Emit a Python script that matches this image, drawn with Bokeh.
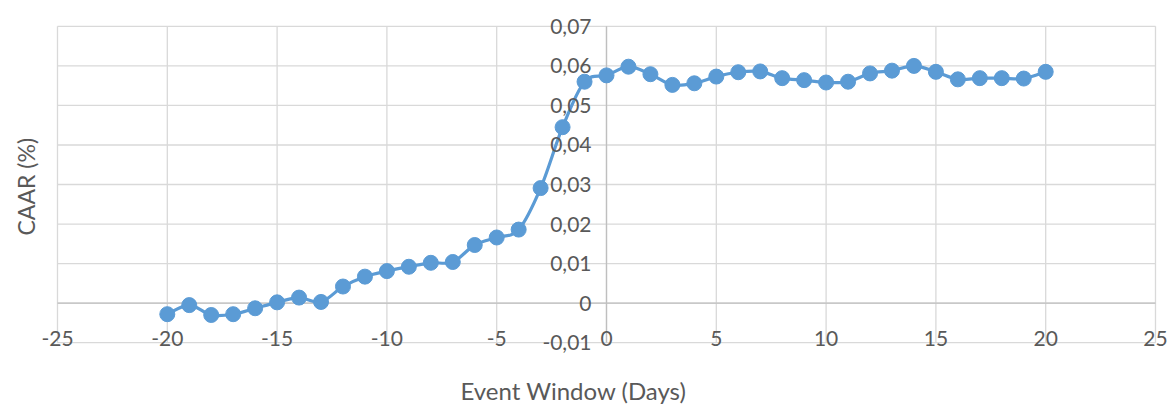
import numpy as np
from bokeh.plotting import figure
from bokeh.models import ColumnDataSource, LabelSet, Title
from bokeh.core.properties import value
from bokeh.embed import file_html
from bokeh.resources import INLINE

days = list(range(-20, 21))
caar = [-0.0028, -0.0005, -0.0030, -0.0028, -0.0013, 0.0002, 0.0014, 0.0003,
        0.0042, 0.0067, 0.0081, 0.0092, 0.0102, 0.0104, 0.0147, 0.0166,
        0.0186, 0.0291, 0.0445, 0.0560, 0.0576, 0.0598, 0.0579, 0.0552,
        0.0556, 0.0573, 0.0584, 0.0586, 0.0569, 0.0564, 0.0558, 0.0560,
        0.0581, 0.0588, 0.0600, 0.0585, 0.0566, 0.0569, 0.0569, 0.0568,
        0.0585]

x_ticks = [-25, -20, -15, -10, -5, 0, 5, 10, 15, 20, 25]
x_tick_labels = ["-25", "-20", "-15", "-10", "-5", "0", "5", "10", "15", "20", "25"]
y_ticks = [-0.01, 0.0, 0.01, 0.02, 0.03, 0.04, 0.05, 0.06, 0.07]
y_tick_labels = ["-0,01", "0", "0,01", "0,02", "0,03", "0,04", "0,05", "0,06", "0,07"]
x_title = "Event Window (Days)"
y_title = "CAAR (%)"

FONT = "Lato"
LABEL_COLOR = "#595959"
BLUE = "#5B9BD5"
GRID = "#D9D9D9"
AXIS = "#BFBFBF"

# layout: frame is larger than the gridded area so edge labels are not clipped
W, H = 1170, 405
LEFT, BOTTOM = 40, 30
xmin, xmax = x_ticks[0], x_ticks[-1]
ymin, ymax = y_ticks[0], y_ticks[-1]
px_x = 1098.0 / (xmax - xmin)
px_y = 318.0 / (ymax - ymin)
x_start = xmin - (57 - LEFT) / px_x
x_end = xmax + (W - 1155) / px_x
y_end = ymax + 26 / px_y
y_start = ymin - ((H - BOTTOM) - 344) / px_y

p = figure(width=W, height=H, x_range=(x_start, x_end), y_range=(y_start, y_end),
           output_backend="svg", toolbar_location=None,
           min_border_left=LEFT, min_border_right=0, min_border_top=0,
           min_border_bottom=BOTTOM)
p.outline_line_color = None
p.background_fill_color = "white"
p.border_fill_color = "white"
p.xgrid.visible = False
p.ygrid.visible = False
p.xaxis.visible = False
p.yaxis.visible = False

p.add_layout(Title(text=x_title, align="left", offset=420, standoff=1,
                   vertical_align="bottom",
                   text_font=FONT, text_font_style="normal", text_font_size="24px",
                   text_color=LABEL_COLOR), "below")
p.add_layout(Title(text=y_title, align="left", offset=138, standoff=2,
                   text_font=FONT, text_font_style="normal", text_font_size="23px",
                   text_color=LABEL_COLOR), "left")

# grid lines
p.segment(x0=x_ticks, x1=x_ticks, y0=[ymin] * len(x_ticks), y1=[ymax] * len(x_ticks),
          line_color=GRID, line_width=1.3)
p.segment(x0=[xmin] * len(y_ticks), x1=[xmax] * len(y_ticks), y0=y_ticks, y1=y_ticks,
          line_color=GRID, line_width=1.3)
# axis lines crossing at 0
p.segment(x0=[0], x1=[0], y0=[ymin], y1=[ymax], line_color=AXIS, line_width=1.3)
p.segment(x0=[xmin], x1=[xmax], y0=[0], y1=[0], line_color=AXIS, line_width=1.3)

# smoothed line (Catmull-Rom -> cubic Bezier control points from the data)
xs = np.array(days, dtype=float)
ys = np.array(caar, dtype=float)
xp = np.concatenate([[xs[0]], xs, [xs[-1]]])
yp = np.concatenate([[ys[0]], ys, [ys[-1]]])
n = len(xs)
x0 = xs[:-1]; y0 = ys[:-1]; x1 = xs[1:]; y1 = ys[1:]
cx0 = xs[:-1] + (xp[2:n + 1] - xp[0:n - 1]) / 6.0
cy0 = ys[:-1] + (yp[2:n + 1] - yp[0:n - 1]) / 6.0
cx1 = xs[1:] - (xp[3:n + 2] - xp[1:n]) / 6.0
cy1 = ys[1:] - (yp[3:n + 2] - yp[1:n]) / 6.0
p.bezier(x0=x0, y0=y0, x1=x1, y1=y1, cx0=cx0, cy0=cy0, cx1=cx1, cy1=cy1,
         line_color=BLUE, line_width=3.2)

p.scatter(days, caar, size=15, fill_color=BLUE, line_color=BLUE)

# tick labels
xsrc = ColumnDataSource(dict(x=x_ticks, y=[ymin] * len(x_ticks), t=x_tick_labels))
p.add_layout(LabelSet(x="x", y="y", text="t", source=xsrc, text_align="center",
                      text_baseline="middle", y_offset=4, text_font=value(FONT),
                      text_font_size="21px", text_color=LABEL_COLOR))
ysrc = ColumnDataSource(dict(x=[0] * len(y_ticks), y=y_ticks, t=y_tick_labels))
p.add_layout(LabelSet(x="x", y="y", text="t", source=ysrc, text_align="right",
                      text_baseline="middle", x_offset=-15, text_font=value(FONT),
                      text_font_size="21px", text_color=LABEL_COLOR))

open("out.html", "w").write(file_html(p, INLINE))
